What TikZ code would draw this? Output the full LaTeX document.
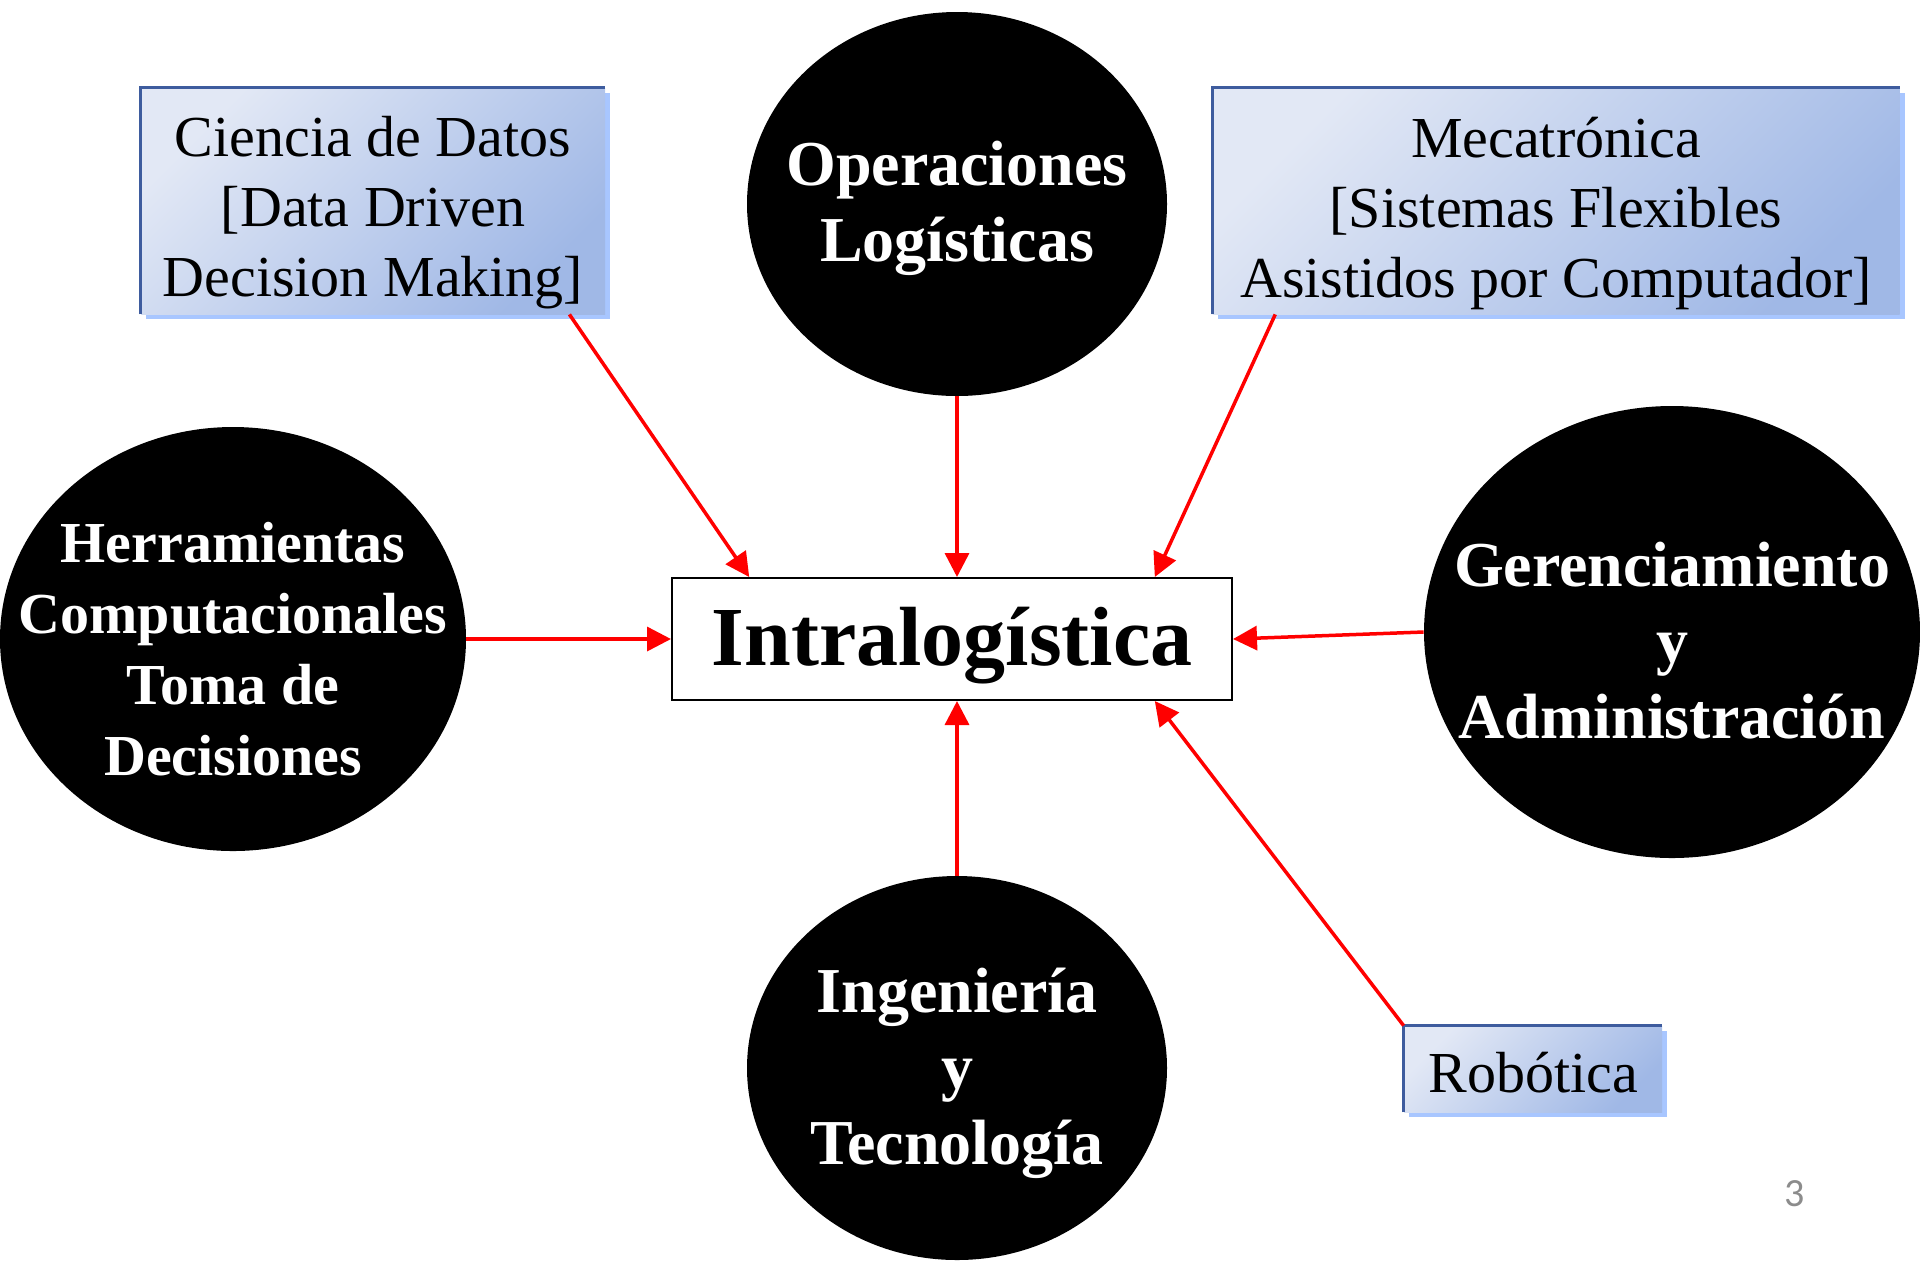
\documentclass[tikz,border=0pt]{standalone}
\usepackage{fontspec}
\setmainfont{Liberation Serif}
\newfontfamily\pagefont{Carlito}
\usetikzlibrary{shapes.geometric,shadows,arrows.meta}
\definecolor{boxlight}{RGB}{226,232,245}
\definecolor{boxdark}{RGB}{160,184,230}
\definecolor{boxedge}{RGB}{62,92,158}
\definecolor{boxshade}{RGB}{168,198,255}
\definecolor{pagegray}{RGB}{140,140,140}
\begin{document}
\begin{tikzpicture}[x=0.5pt,y=0.5pt,yscale=-1,xscale=1,
  topic/.style={rectangle, inner sep=0pt, top color=boxlight, bottom color=boxdark, shading angle=45, drop shadow={shadow xshift=2.5pt, shadow yshift=-2.5pt, fill=boxshade, opacity=1}},
  topictext/.style={align=center, font=\fontsize{29}{35}\selectfont},
  field/.style={ellipse, fill=black, inner sep=0pt},
  fieldtext/.style={text=white, align=center, font=\bfseries\fontsize{32}{38}\selectfont},
  flow/.style={draw=red, line width=1.75pt, -{Triangle[length=12pt,width=12pt]}}]
\useasboundingbox (0,0) rectangle (1920,1260);

%Shape: Rectangle [Ciencia de Datos]
\node[topic, minimum width=232pt, minimum height=113pt, label={[topictext, yshift=-6pt]center:Ciencia de Datos\\{[}Data Driven\\Decision Making]}] (datos) at (373,201) {};
%Shape: Rectangle [Mecatronica]
\node[topic, minimum width=343.5pt, minimum height=113pt, label={[topictext, yshift=-6pt]center:Mecatrónica\\{[}Sistemas Flexibles\\Asistidos por Computador]}] (meca) at (1556,201) {};
%Shape: Rectangle [Robotica]
\node[topic, minimum width=129pt, minimum height=43pt, label={[topictext, yshift=-2pt]center:Robótica}] (robot) at (1533,1069) {};
\foreach \b in {datos,meca,robot}
  \draw[boxedge, line width=1.5pt] (\b.south west) -- (\b.north west) -- (\b.north east);

%Shape: Ellipse
\node[field, minimum width=210pt, minimum height=192pt, label={[fieldtext, yshift=-2pt]center:Operaciones\\Logísticas}] (ops) at (957,204) {};
\node[field, minimum width=233pt, minimum height=212pt, label={[fieldtext, yshift=-5pt, font=\bfseries\fontsize{29}{35.5}\selectfont]center:Herramientas\\Computacionales\\Toma de\\Decisiones}] (tools) at (233,639) {};
\node[field, minimum width=248pt, minimum height=226pt, label={[fieldtext, yshift=-4.5pt]center:Gerenciamiento\\y\\Administración}] (gest) at (1672,632) {};
\node[field, minimum width=210pt, minimum height=192pt, label={[fieldtext, yshift=-2.5pt]center:Ingeniería\\y\\Tecnología}] (ing) at (957,1068) {};

%Shape: Rectangle [centre]
\node[draw, line width=1pt, inner sep=0pt, minimum width=280pt, minimum height=61pt, label={[font=\bfseries\fontsize{42}{50}\selectfont, yshift=-3.5pt]center:Intralogística}] (intra) at (952,639) {};

%Straight Lines
\draw[flow] (datos.-30) -- (intra.163);
\draw[flow] (ops.south) -- (ops.south |- intra.north);
\draw[flow] (meca.202.6) -- (intra.17.4);
\draw[flow] (tools.east) -- (intra.west);
\draw[flow] (gest.west) -- (intra.east);
\draw[flow] (ing.north) -- (ing.north |- intra.south);
\draw[flow] (robot.north west) -- (intra.-17.7);

% Text Node
\node[text=pagegray, font=\pagefont\fontsize{20}{24}\selectfont] (page) at (1795,1194) {3};

\end{tikzpicture}
\end{document}
